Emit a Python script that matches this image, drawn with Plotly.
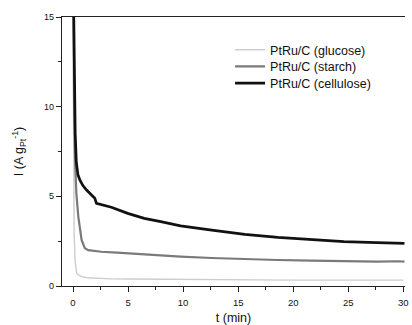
import plotly.graph_objects as go

t_glucose = [0.0, 0.05, 0.1, 0.18, 0.33, 0.5, 0.78, 1.2, 2.0, 3.5, 5.0, 8.0, 12.0, 16.0, 20.0, 25.0, 30.0]
i_glucose = [16.0, 8.0, 3.0, 1.45, 0.71, 0.6, 0.52, 0.46, 0.43, 0.4, 0.39, 0.37, 0.35, 0.34, 0.33, 0.33, 0.33]

t_starch = [0.05, 0.1, 0.2, 0.3, 0.48, 0.65, 0.78, 0.95, 1.08, 1.38, 2.0, 2.58, 4.0, 4.97, 7.97, 9.77, 12.6, 15.6, 18.6, 21.6, 24.6, 27.6, 29.5, 30.1]
i_starch = [16.0, 10.0, 6.8, 5.2, 3.87, 3.0, 2.57, 2.3, 2.10, 2.0, 1.94, 1.91, 1.86, 1.82, 1.69, 1.64, 1.56, 1.49, 1.45, 1.41, 1.38, 1.36, 1.38, 1.36]

t_cellulose = [0.05, 0.1, 0.2, 0.3, 0.45, 0.63, 0.9, 1.23, 1.7, 1.98, 2.13, 2.5, 3.48, 4.97, 6.47, 7.97, 9.77, 12.6, 15.6, 18.6, 21.6, 24.6, 27.6, 30.1]
i_cellulose = [16.0, 12.0, 8.5, 6.9, 6.2, 5.9, 5.6, 5.35, 5.07, 4.89, 4.61, 4.55, 4.39, 4.05, 3.77, 3.59, 3.35, 3.12, 2.88, 2.71, 2.60, 2.47, 2.42, 2.38]

series_names = ["PtRu/C (glucose)", "PtRu/C (starch)", "PtRu/C (cellulose)"]
x_ticks = [0, 5, 10, 15, 20, 25, 30]
y_ticks = [0, 5, 10, 15]

fig = go.Figure()
fig.add_trace(go.Scatter(x=t_glucose, y=i_glucose, mode="lines", name=series_names[0],
                         line=dict(color="#cdcdcd", width=1.4), legend="legend"))
fig.add_trace(go.Scatter(x=t_starch, y=i_starch, mode="lines", name=series_names[1],
                         line=dict(color="#7a7a7a", width=2.2), legend="legend2"))
fig.add_trace(go.Scatter(x=t_cellulose, y=i_cellulose, mode="lines", name=series_names[2],
                         line=dict(color="#111111", width=2.7), legend="legend3"))

font_family = "Liberation Sans, Arial, sans-serif"
leg_common = dict(x=0.49, xanchor="left", yanchor="middle", bgcolor="rgba(0,0,0,0)",
                  font=dict(size=12.5, color="#111"), borderwidth=0)

fig.update_layout(
    width=412, height=325,
    margin=dict(l=62, r=3, t=17, b=39),
    paper_bgcolor="white", plot_bgcolor="white",
    font=dict(family=font_family, size=10, color="#111"),
    showlegend=True,
    legend=dict(y=0.877, **leg_common),
    legend2=dict(y=0.815, **leg_common),
    legend3=dict(y=0.753, **leg_common),
    xaxis=dict(range=[-1.0, 30.15], tickvals=x_ticks,
               ticks="outside", ticklen=5, tickwidth=1, tickcolor="#222",
               minor=dict(ticks="outside", ticklen=2.5, dtick=2.5, tick0=0, tickcolor="#222"),
               showline=True, linecolor="#222", linewidth=1.2, mirror=True,
               showgrid=False, zeroline=False, ticklabeloverflow="allow",
               ticklabelstandoff=2,
               tickfont=dict(size=9.5, color="#111"),
               title=dict(text="t (min)", font=dict(size=12.5), standoff=6)),
    yaxis=dict(range=[0, 15], tickvals=y_ticks,
               ticks="outside", ticklen=5, tickwidth=1, tickcolor="#222",
               minor=dict(ticks="outside", ticklen=2.5, dtick=2.5, tick0=0, tickcolor="#222"),
               showline=True, linecolor="#222", linewidth=1.2, mirror=False,
               showgrid=False, zeroline=False,
               tickfont=dict(size=9, color="#111"),
               title=dict(text="I (A g<sub>Pt</sub><sup>-1</sup>)", font=dict(size=12.5), standoff=17)),
)

fig.write_html("out.html", config={"displayModeBar": False},
               post_script="document.body.style.margin='0';document.body.style.overflow='hidden';")
